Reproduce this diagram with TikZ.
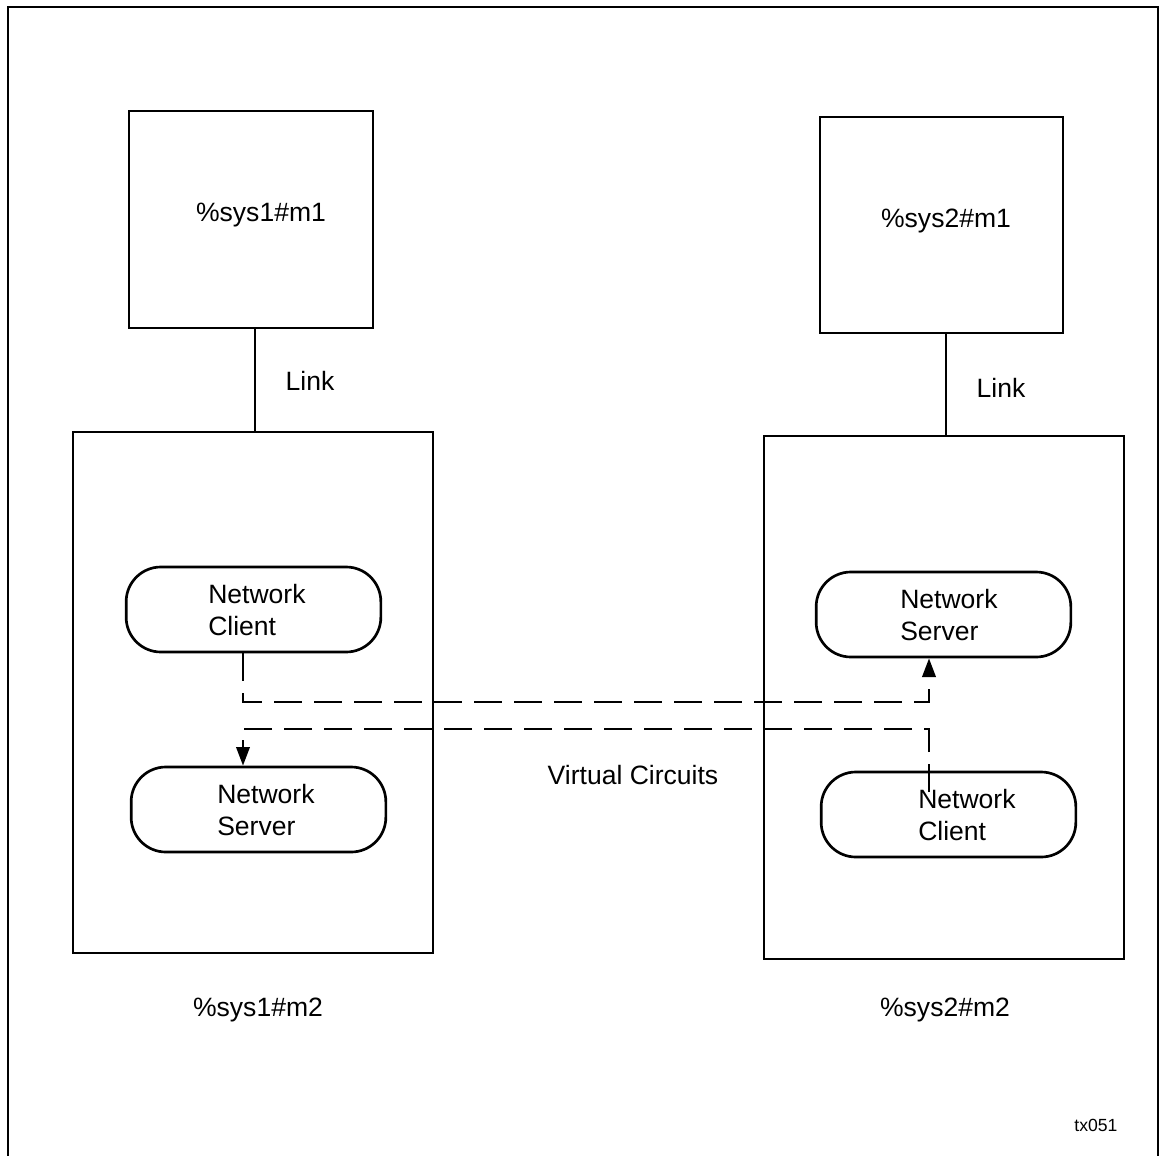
\documentclass[tikz,border=0pt]{standalone}
\usepackage{fontspec}
\setmainfont{Liberation Sans}
\usetikzlibrary{arrows.meta}
\begin{document}
\begin{tikzpicture}[x=0.75pt,y=-0.75pt,
  sysbox/.style={draw, line width=2pt, inner sep=0pt},
  procbox/.style={draw, line width=2pt, rounded corners=26pt, inner sep=0pt,
    minimum width=191pt, minimum height=63.75pt},
  txt/.style={inner sep=0pt, font=\fontsize{19.9}{24}\selectfont, align=left},
  vc/.style={line width=2pt, dash pattern=on 21pt off 9pt},
  tip/.style={-{Triangle[length=14pt,width=10pt]}}
]
\useasboundingbox (0,0) rectangle (1160,1156);
% outer frame, open at the bottom
\draw[line width=2.2pt] (8,1160) -- (8,7) -- (1158,7) -- (1158,1160);

% first system
\node[sysbox, minimum width=183pt, minimum height=162.75pt] (s1a) at (251,219.5) {};
\node[txt] (s1aT) at (261,215) {\%sys1\#m1};
\node[sysbox, minimum width=270pt, minimum height=390.75pt] (s1b) at (253,692.5) {};
\node[txt] (s1bT) at (258,1010) {\%sys1\#m2};
\draw[line width=2pt] (s1a.south -| 255,0) -- (s1b.north -| 255,0);
\node[txt] (l1) at (310,381) {Link};
\node[procbox] (lc) at (253.5,609.5) {};
\node[txt, anchor=west] (lcT) at (208,610) {Network\\Client};
\node[procbox] (ls) at (258.5,809.5) {};
\node[txt, anchor=west] (lsT) at (217,810) {Network\\Server};

% second system
\node[sysbox, minimum width=182.25pt, minimum height=162pt] (s2a) at (941.5,225) {};
\node[txt] (s2aT) at (946,221) {\%sys2\#m1};
\node[sysbox, minimum width=270pt, minimum height=392.25pt] (s2b) at (944,697.5) {};
\node[txt] (s2bT) at (945,1010) {\%sys2\#m2};
\draw[line width=2pt] (s2a.south -| 946,0) -- (s2b.north -| 946,0);
\node[txt] (l2) at (1001,388) {Link};
\node[procbox] (rs) at (943.5,614.5) {};
\node[txt, anchor=west] (rsT) at (900,615) {Network\\Server};
\node[procbox] (rc) at (948.5,814.5) {};
\node[txt, anchor=west] (rcT) at (918,815) {Network\\Client};

% virtual circuits
\coordinate (rcIn) at (929,792);
\draw[vc, tip] (lc.south -| 243,0) -- (243,702) -- (929,702) -- (rs.south -| 929,0);
\draw[vc, tip] (rcIn) -- (929,729) -- (243,729) -- (ls.north -| 243,0);
\node[txt] (vcT) at (633,775) {Virtual Circuits};

\node[inner sep=0pt, font=\fontsize{13.2}{16}\selectfont] (tag) at (1096,1125) {tx051};
\end{tikzpicture}
\end{document}
